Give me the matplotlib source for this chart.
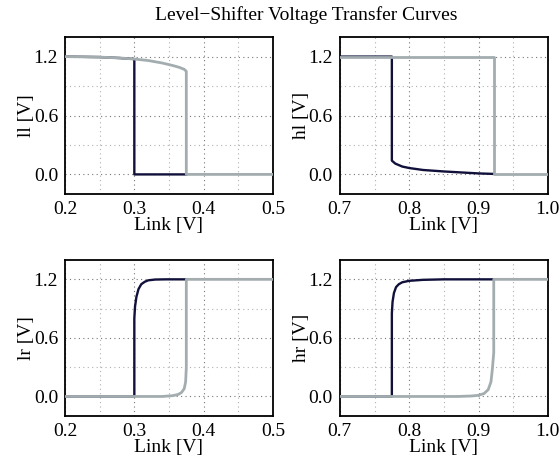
import matplotlib
matplotlib.use("Agg")
import matplotlib.pyplot as plt
from matplotlib.ticker import MultipleLocator

plt.rcParams['font.family'] = ['Liberation Serif', 'DejaVu Serif']
plt.rcParams['mathtext.fontset'] = 'stix'

dark = '#10103a'
gray = '#a3adb0'

# ll panel
ll_x_dark = [0.2, 0.25, 0.28, 0.3, 0.3, 0.375]
ll_y_dark = [1.2, 1.195, 1.185, 1.175, 0.0, 0.0]
ll_x_gray = [0.2, 0.25, 0.28, 0.3, 0.32, 0.34, 0.355, 0.365, 0.372, 0.375, 0.375, 0.5]
ll_y_gray = [1.2, 1.195, 1.185, 1.175, 1.16, 1.135, 1.11, 1.09, 1.07, 1.05, 0.0, 0.0]

# hl panel
hl_x_dark = [0.7, 0.775, 0.775, 0.78, 0.79, 0.8, 0.82, 0.85, 0.88, 0.9, 0.922]
hl_y_dark = [1.2, 1.2, 0.14, 0.11, 0.08, 0.065, 0.045, 0.03, 0.018, 0.01, 0.005]
hl_x_gray = [0.7, 0.922, 0.922, 1.0]
hl_y_gray = [1.2, 1.2, 0.0, 0.0]

# lr panel
lr_x_dark = [0.2, 0.3, 0.3, 0.301, 0.303, 0.306, 0.31, 0.315, 0.32, 0.33, 0.345, 0.375]
lr_y_dark = [0.0, 0.0, 0.8, 0.92, 1.02, 1.1, 1.15, 1.175, 1.19, 1.198, 1.2, 1.2]
lr_x_gray = [0.2, 0.34, 0.355, 0.363, 0.368, 0.372, 0.374, 0.375, 0.375, 0.5]
lr_y_gray = [0.0, 0.0, 0.008, 0.02, 0.04, 0.08, 0.15, 0.3, 1.2, 1.2]

# hr panel
hr_x_dark = [0.7, 0.775, 0.775, 0.776, 0.778, 0.781, 0.785, 0.79, 0.8, 0.82, 0.85, 0.922]
hr_y_dark = [0.0, 0.0, 0.85, 0.97, 1.06, 1.12, 1.15, 1.17, 1.185, 1.195, 1.2, 1.2]
hr_x_gray = [0.7, 0.87, 0.89, 0.9, 0.908, 0.914, 0.918, 0.92, 0.922, 0.922, 1.0]
hr_y_gray = [0.0, 0.0, 0.005, 0.012, 0.03, 0.07, 0.15, 0.28, 0.45, 1.2, 1.2]

panels = [
    ('ll [V]', (0.2, 0.5), ll_x_dark, ll_y_dark, ll_x_gray, ll_y_gray, [0.1163, 0.580, 0.372, 0.340]),
    ('hl [V]', (0.7, 1.0), hl_x_dark, hl_y_dark, hl_x_gray, hl_y_gray, [0.608, 0.580, 0.372, 0.340]),
    ('lr [V]', (0.2, 0.5), lr_x_dark, lr_y_dark, lr_x_gray, lr_y_gray, [0.1163, 0.0996, 0.372, 0.338]),
    ('hr [V]', (0.7, 1.0), hr_x_dark, hr_y_dark, hr_x_gray, hr_y_gray, [0.608, 0.0996, 0.372, 0.338]),
]

fig = plt.figure(figsize=(5.59, 4.62), dpi=100)

for ylab, xl, xd, yd, xg, yg, pos in panels:
    ax = fig.add_axes(pos)
    ax.plot(xd, yd, color=dark, lw=1.7, zorder=3)
    ax.plot(xg, yg, color=gray, lw=2.0, zorder=4)
    ax.set_xlim(*xl)
    ax.set_ylim(-0.2, 1.4)
    ax.xaxis.set_major_locator(MultipleLocator(0.1))
    ax.xaxis.set_minor_locator(MultipleLocator(0.05))
    ax.yaxis.set_major_locator(MultipleLocator(0.6))
    ax.yaxis.set_minor_locator(MultipleLocator(0.3))
    ax.set_xticklabels(['%.1f' % t for t in ax.get_xticks()])
    ax.set_yticklabels(['%.1f' % t for t in ax.get_yticks()])
    ax.tick_params(which='both', length=0, labelsize=14, pad=5)
    ax.grid(True, which='major', ls=(0, (1, 3)), color='#777777', lw=0.8)
    ax.grid(True, which='minor', ls=(0, (1, 3)), color='#b0b0b0', lw=0.8)
    for s in ax.spines.values():
        s.set_linewidth(1.3)
    ax.set_xlabel('Link [V]', fontsize=14, labelpad=-1)
    ax.set_ylabel(ylab, fontsize=14, labelpad=-1)

fig.text(0.548, 0.968, 'Level\u2212Shifter Voltage Transfer Curves', ha='center', va='center', fontsize=14)

fig.savefig('out.png', dpi=100)
